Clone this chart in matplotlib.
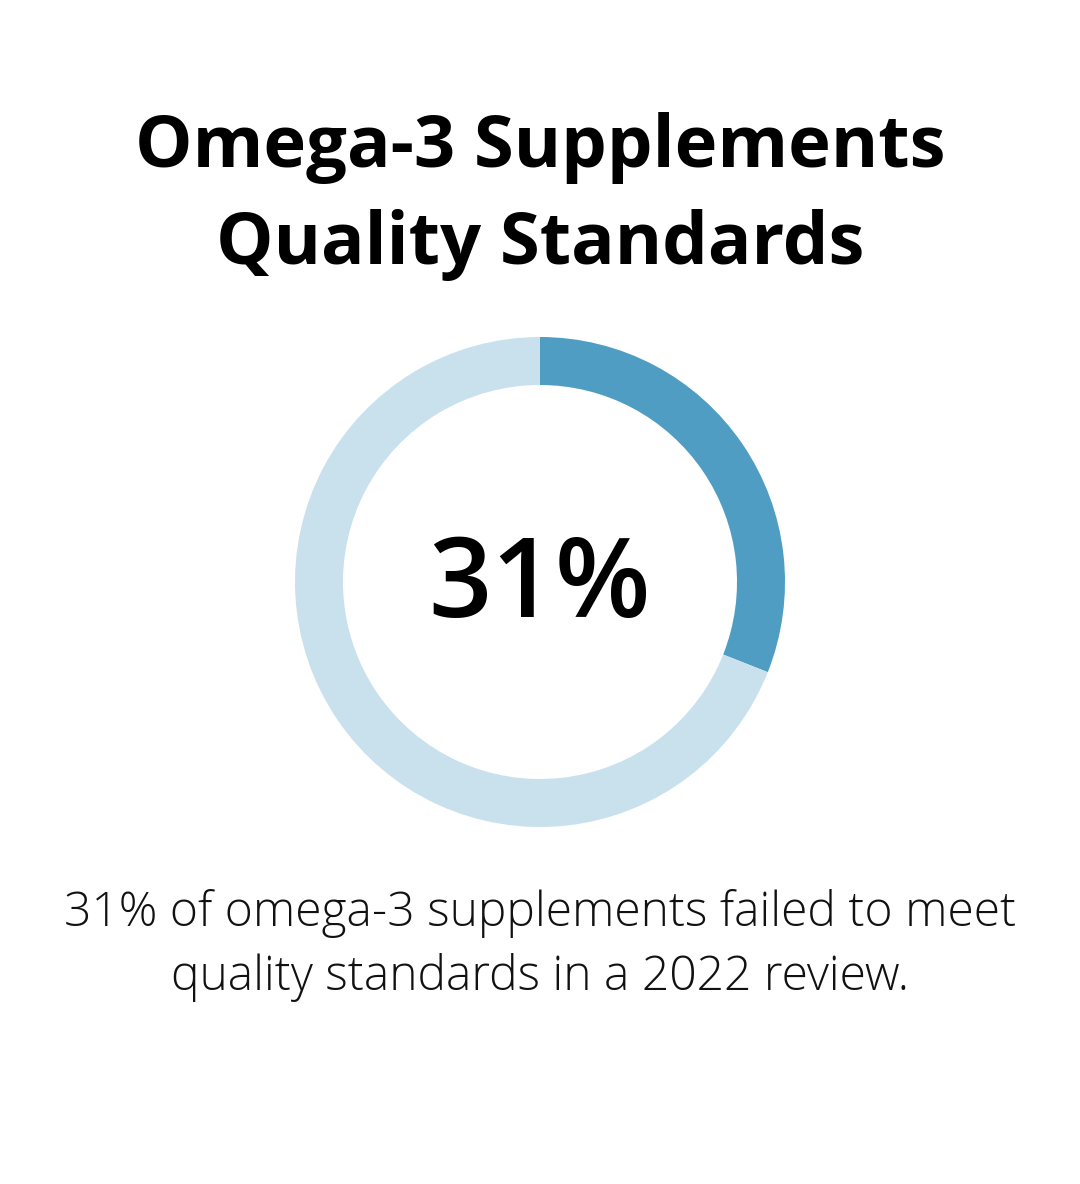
import matplotlib.pyplot as plt

# chart values
title_lines = ["Omega-3 Supplements", "Quality Standards"]
shares = [31, 69]
share_colors = ["#4f9dc3", "#c9e1ed"]
center_label = "31%"
caption_lines = ["31% of omega-3 supplements failed to meet",
                 "quality standards in a 2022 review."]

W, H = 1080, 1184
fig = plt.figure(figsize=(W / 100, H / 100), dpi=100)
fig.patch.set_facecolor("white")

# donut: centre (540, 582), outer radius 245 px
cx, cy, r = 540, 582, 245
ax = fig.add_axes([(cx - r) / W, 1 - (cy + r) / H, 2 * r / W, 2 * r / H])
ax.pie(shares, colors=share_colors, startangle=90, counterclock=False,
       radius=1, wedgeprops=dict(width=48 / r, edgecolor="none"))
ax.set_xlim(-1, 1)
ax.set_ylim(-1, 1)
ax.set_aspect("equal")
ax.axis("off")

# big number, baseline at y=617 px
fig.text(0.5, 1 - 617 / H, center_label, ha="center", va="baseline",
         fontsize=80, fontweight="semibold", family="Open Sans", color="black")

# title
for i, line in enumerate(title_lines):
    fig.text(0.5, 1 - (139 + i * 98) / H, line, ha="center", va="center_baseline",
             fontsize=52, fontweight="bold", family="Open Sans", color="black")

# caption
for i, line in enumerate(caption_lines):
    fig.text(0.5, 1 - (908 + i * 64) / H, line, ha="center", va="center_baseline",
             fontsize=34.6, fontweight="light", family="Open Sans", color="#111111")

fig.savefig("out.png", dpi=100)
